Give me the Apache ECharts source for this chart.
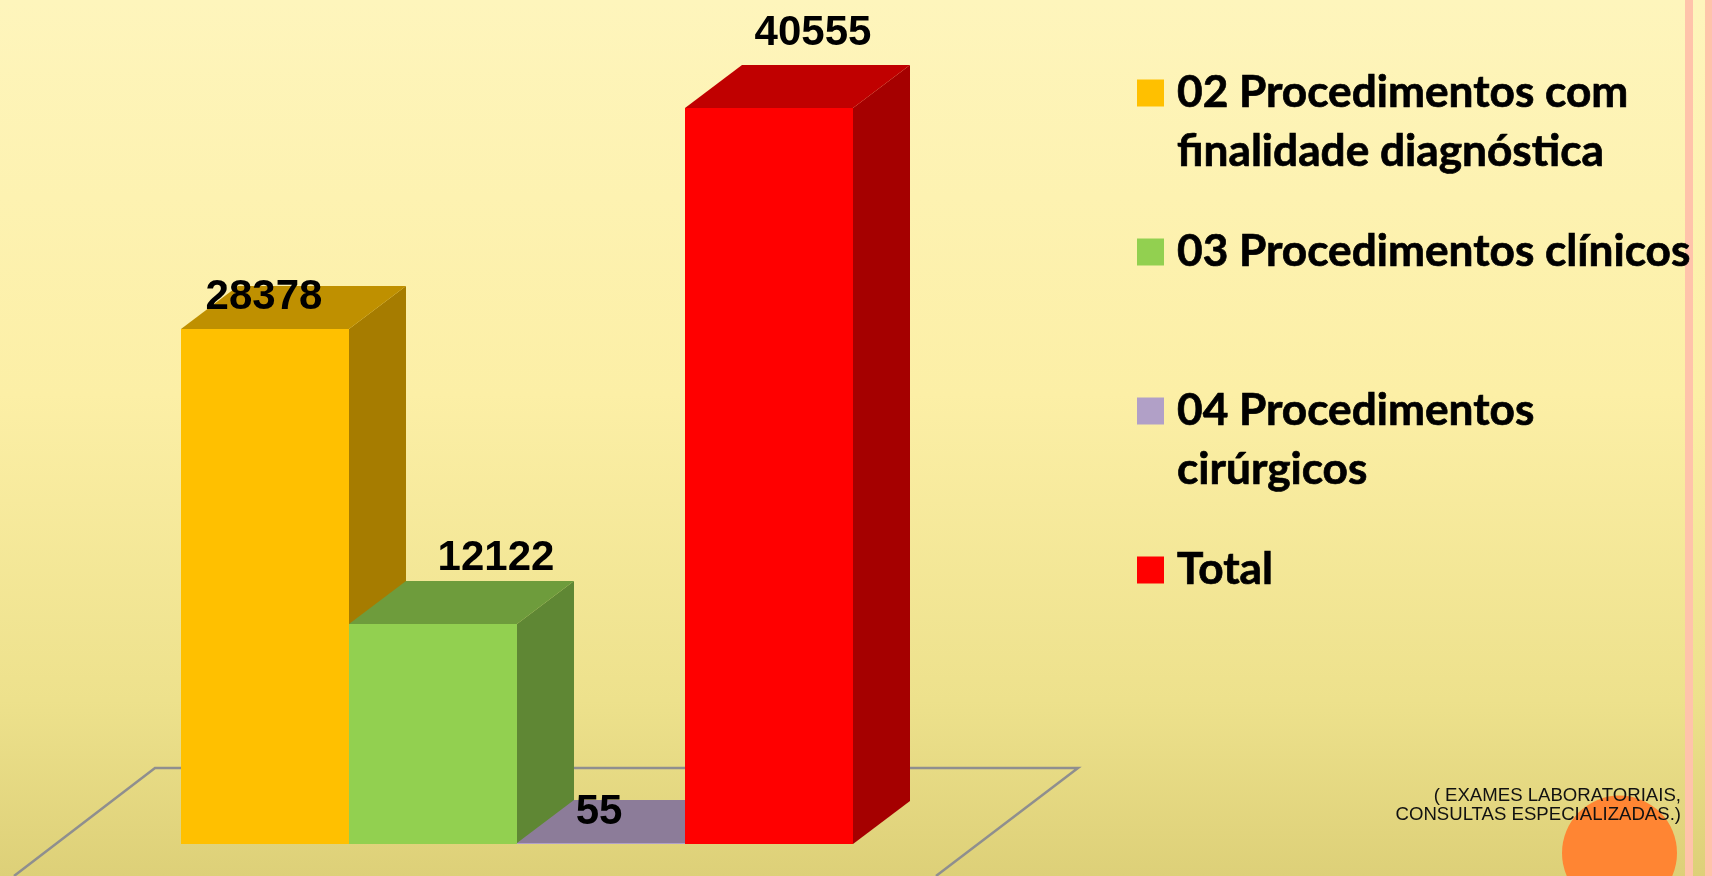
<!DOCTYPE html>
<html>
<head>
<meta charset="utf-8">
<style>html,body{margin:0;padding:0;overflow:hidden}#c{width:1712px;height:876px}</style>
<script src="https://cdn.jsdelivr.net/npm/echarts@6/dist/echarts.min.js"></script>
</head>
<body>
<div id="c"></div>
<script>
const categories = ['02 Procedimentos com\nfinalidade diagnóstica', '03 Procedimentos clínicos', '04 Procedimentos\ncirúrgicos', 'Total'];
const values = [28378, 12122, 55, 40555];
const frontColors = ['#FFC000', '#92D050', '#B1A0C7', '#FF0000'];
const topColors = ['#BF9000', '#6E9C3C', '#8C7C99', '#C00000'];
const sideColors = ['#A67C00', '#5F8734', '#77688A', '#A50000'];
const labelShift = [[-1, -32], [63, -66], [-2, -31], [44, -75]];
const depth = [57, 43];

const chart = echarts.init(document.getElementById('c'), null, {renderer: 'canvas'});

function barItem(params, api) {
  const i = api.value(0);
  const p = api.coord([i, api.value(1)]);
  const base = api.coord([i, 0]);
  const w = api.size([1, 0])[0];
  const x0 = p[0] - w / 2, x1 = p[0] + w / 2;
  const yt = p[1], yb = base[1];
  const [dx, dy] = depth;
  const [lx, ly] = labelShift[i];
  return {
    type: 'group',
    children: [
      {type: 'polygon', shape: {points: [[x1, yt], [x1 + dx, yt - dy], [x1 + dx, yb - dy], [x1, yb]]}, style: {fill: sideColors[i]}},
      {type: 'polygon', shape: {points: [[x0, yt], [x0 + dx, yt - dy], [x1 + dx, yt - dy], [x1, yt]]}, style: {fill: topColors[i]}},
      {type: 'rect', shape: {x: x0, y: yt, width: w, height: yb - yt}, style: {fill: frontColors[i]}},
      {type: 'text', z2: 20, style: {
        text: String(api.value(1)), x: p[0] + lx, y: yt + ly, align: 'center', verticalAlign: 'middle',
        fill: '#000', font: 'bold 42px "Liberation Sans", Arial, sans-serif'
      }}
    ]
  };
}

function floorItem(params, api) {
  const g = params.coordSys;
  const bottom = g.y + g.height, right = g.x + g.width;
  return {
    type: 'polyline',
    shape: {points: [[g.x - 167, bottom + 32], [g.x - 26, bottom - 76], [right + 225, bottom - 76], [right + 83, bottom + 32]]},
    style: {stroke: '#8F8F8F', lineWidth: 2.5, fill: 'none'}
  };
}

const series = [{
  type: 'custom', name: 'piso', silent: true, data: [[0, 0]], encode: {x: 0, y: 1},
  renderItem: floorItem, itemStyle: {color: '#8F8F8F'}
}].concat(categories.map((name, i) => ({
  type: 'custom', name, silent: true,
  data: [[name, values[i]]],
  encode: {x: 0, y: 1},
  itemStyle: {color: frontColors[i]},
  renderItem: barItem
})));

chart.setOption({
  animation: false,
  backgroundColor: new echarts.graphic.LinearGradient(0, 0, 0, 1, [
    {offset: 0, color: '#FEF5BC'},
    {offset: 0.45, color: '#FCEFA6'},
    {offset: 0.8, color: '#EDE18C'},
    {offset: 1, color: '#DDD078'}
  ]),
  grid: {left: 181, top: 108, width: 672, height: 736},
  xAxis: {type: 'category', data: categories, show: false},
  yAxis: {type: 'value', min: 0, max: 40555, show: false},
  legend: {
    data: categories, orient: 'vertical', left: 1137, top: 4.5, padding: 0,
    icon: 'rect', itemWidth: 27, itemHeight: 27, itemGap: -18, selectedMode: false, z: 5,
    formatter: name => { const [a, b = ' '] = name.split('\n'); return '\n' + a + '\n' + b; },
    textStyle: {color: '#000', fontFamily: 'Lato', fontWeight: 'bold', fontSize: 44.2, lineHeight: 59, padding: [0, 0, 0, 8], textBorderColor: '#000', textBorderWidth: 0.7}
  },
  graphic: [
    {type: 'rect', silent: true, z: 0, shape: {x: 1685, y: 0, width: 8, height: 876}, style: {fill: '#FFC3AB'}},
    {type: 'rect', silent: true, z: 0, shape: {x: 1705, y: 0, width: 7, height: 876}, style: {fill: '#FFC3AB'}},
    {type: 'circle', silent: true, z: 0, shape: {cx: 1619.5, cy: 853, r: 57.5}, style: {fill: '#FF8533'}},
    {type: 'text', silent: true, z: 1, style: {
      text: '( EXAMES LABORATORIAIS,\nCONSULTAS ESPECIALIZADAS.)', x: 1681, y: 787, align: 'right',
      fill: '#111', font: '18.6px "Liberation Sans", Arial, sans-serif', lineHeight: 18.5
    }}
  ],
  series
});
</script>
</body>
</html>
